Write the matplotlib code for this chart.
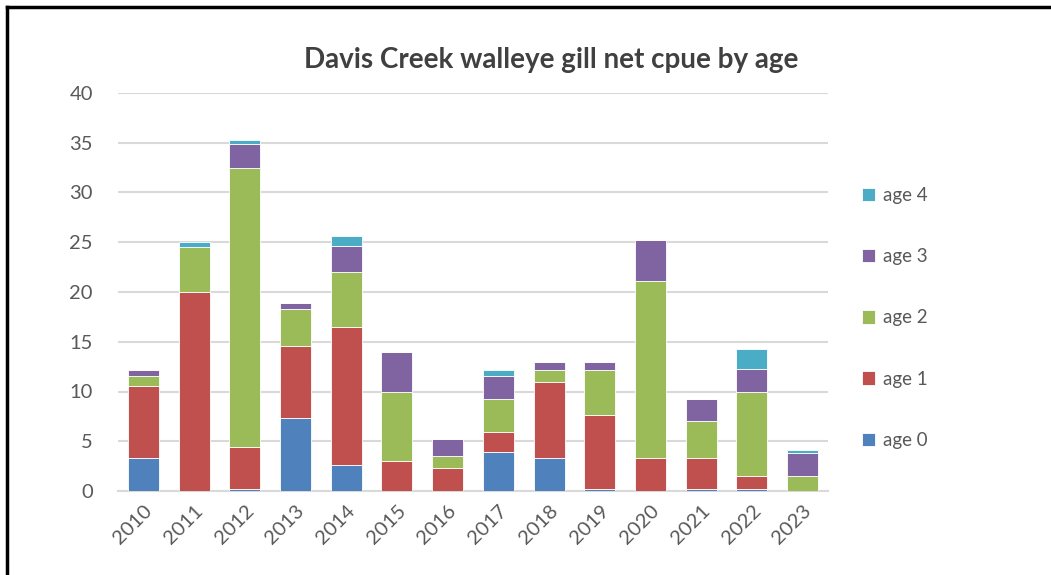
import numpy as np
import matplotlib.pyplot as plt
from matplotlib.lines import Line2D

plt.rcParams['font.family'] = ['Lato', 'DejaVu Sans']

years = ['2010', '2011', '2012', '2013', '2014', '2015', '2016',
         '2017', '2018', '2019', '2020', '2021', '2022', '2023']

age0 = [3.3, 0.0, 0.2, 7.3, 2.6, 0.0, 0.0, 3.9, 3.3, 0.2, 0.0, 0.2, 0.2, 0.0]
age1 = [7.3, 20.0, 4.2, 7.3, 13.9, 3.0, 2.3, 2.0, 7.7, 7.4, 3.3, 3.1, 1.35, 0.0]
age2 = [1.0, 4.55, 28.1, 3.7, 5.5, 6.9, 1.2, 3.3, 1.2, 4.6, 17.8, 3.7, 8.35, 1.55]
age3 = [0.6, 0.0, 2.4, 0.6, 2.6, 4.1, 1.75, 2.4, 0.8, 0.8, 4.1, 2.25, 2.35, 2.25]
age4 = [0.0, 0.45, 0.4, 0.0, 1.0, 0.0, 0.0, 0.6, 0.0, 0.0, 0.0, 0.0, 2.0, 0.35]

series = [('age 0', age0, '#4F81BD'),
          ('age 1', age1, '#C0504D'),
          ('age 2', age2, '#9BBB59'),
          ('age 3', age3, '#8064A2'),
          ('age 4', age4, '#4BACC6')]

fig = plt.figure(figsize=(10.51, 5.75), dpi=100)
ax = fig.add_axes([118 / 1051, 84 / 575, 710 / 1051, 398 / 575])

x = np.arange(len(years))
bottom = np.zeros(len(years))
handles = []
for name, vals, col in series:
    vals = np.array(vals)
    b = ax.bar(x, vals, 0.61, bottom=bottom, color=col, edgecolor='white',
               linewidth=0.6, label=name, zorder=3)
    handles.append(b)
    bottom += vals

ax.set_xlim(-0.5, len(years) - 0.5)
ax.set_ylim(0, 40)
ax.set_yticks(np.arange(0, 41, 5))
ax.yaxis.grid(True, color='#D9D9D9', linewidth=1.5, zorder=0)
ax.set_axisbelow(True)
for s in ['top', 'right', 'left']:
    ax.spines[s].set_visible(False)
ax.spines['bottom'].set_color('#D9D9D9')
ax.spines['bottom'].set_linewidth(1.5)
ax.tick_params(axis='both', length=0, labelsize=14.5, labelcolor='#595959')
ax.tick_params(axis='y', pad=18)
ax.set_xticks(x)
ax.set_xticklabels(years, rotation=45, ha='right', rotation_mode='anchor')
ax.tick_params(axis='x', pad=8)

fig.text(551 / 1051, 1 - 60 / 575, 'Davis Creek walleye gill net cpue by age',
         ha='center', va='center', fontsize=20, fontweight='bold', color='#404040')

fig.legend(handles[::-1], [s[0] for s in series][::-1], loc='center left',
           bbox_to_anchor=(845 / 1051, 1 - 318 / 575), frameon=False,
           fontsize=13.5, labelspacing=2.35, handlelength=0.7, handleheight=0.7,
           handletextpad=0.45, labelcolor='#595959')

# screenshot frame edges
fig.add_artist(Line2D([7 / 1051, 1], [1 - 7 / 575, 1 - 7 / 575], color='black',
                      linewidth=2.5, transform=fig.transFigure))
fig.add_artist(Line2D([7 / 1051, 7 / 1051], [0, 1 - 7 / 575], color='black',
                      linewidth=2.5, transform=fig.transFigure))

fig.savefig('out.png', dpi=100)
